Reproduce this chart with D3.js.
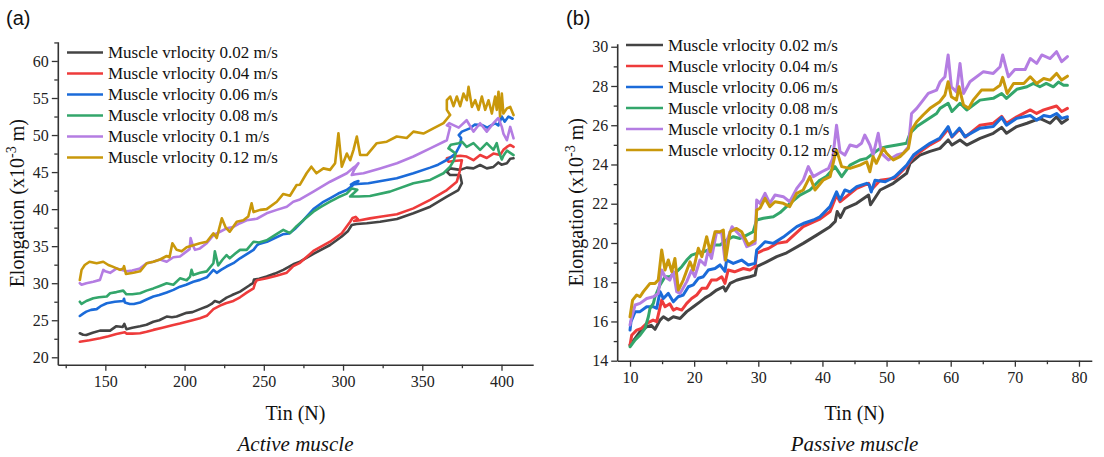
<!DOCTYPE html>
<html>
<head>
<meta charset="utf-8">
<script src="https://cdn.jsdelivr.net/npm/d3@7/dist/d3.min.js"></script>
<style>
  html, body { margin: 0; padding: 0; background: #fff; }
  svg { display: block; }
</style>
</head>
<body>
<svg id="chart" width="1104" height="457"></svg>
<script>
// ---- Legend labels (shared by both panels) ----
const seriesLabels = [
  "Muscle vrlocity 0.02 m/s",
  "Muscle vrlocity 0.04 m/s",
  "Muscle vrlocity 0.06 m/s",
  "Muscle vrlocity 0.08 m/s",
  "Muscle vrlocity 0.1 m/s",
  "Muscle vrlocity 0.12 m/s"
];

// ---- Active muscle: [Tin (N), Elongation (x10^-3 m)] ----
const activeV002 = [[133.9,23.24],[136,23.05],[138,23.0],[142,23.3],[146.6,23.6],[153,23.6],[157,24.2],[161,24.1],[162,24.5],[163.3,23.8],[167,24.0],[171.9,24.2],[176,24.4],[180.3,24.8],[184,25.0],[188.7,25.5],[192,25.4],[195,25.5],[201.3,26.0],[205,26.1],[209.7,26.5],[214,26.85],[217,27.2],[219.1,27.6],[222,27.4],[226.5,28.05],[230,28.4],[235,28.86],[241.3,29.76],[243.2,30.0],[243.8,30.5],[247,30.6],[251.8,30.9],[257,31.3],[262.3,31.8],[268.6,32.55],[272.8,32.9],[281.3,33.95],[291.8,35.16],[299.2,36.3],[303,37.0],[305.5,37.86],[308.6,38.0],[315,38.1],[323.4,38.3],[334,38.67],[344.4,39.44],[355,40.33],[365.5,41.68],[372.8,42.58],[375,43.5],[373.9,44.6],[367.6,44.6],[365.5,45.05],[367.6,45.5],[373.9,45.3],[378,45.6],[382.3,45.5],[386.5,45.96],[390.7,45.5],[394.9,45.7],[398,46.3],[400,46.0],[403.4,46.2],[405.5,46.8],[407.6,46.86]];
const activeV004 = [[133.9,22.1],[140,22.3],[146.6,22.56],[152,22.85],[157,23.15],[162.3,23.37],[163.3,23.2],[167,23.2],[171.9,23.24],[176,23.45],[180.3,23.7],[186,24.0],[192.9,24.36],[197,24.55],[201.3,24.8],[205,25.0],[209.7,25.27],[214,25.6],[218.2,26.5],[222.4,26.97],[226,27.3],[230.8,27.6],[235,28.1],[239.2,28.72],[243.5,29.3],[244.5,30.0],[245.6,30.4],[251.8,30.66],[258,31.0],[264.5,31.42],[268.6,32.3],[272.8,32.75],[281.3,34.35],[291.8,35.6],[299.2,36.74],[304.5,38.3],[306,38.8],[308,38.95],[309.5,38.6],[307,38.4],[310.7,38.5],[317,38.75],[323.4,38.98],[334,39.3],[344.4,40.1],[355,41.24],[365.5,42.58],[371.8,43.7],[373.5,45.0],[375,46.6],[370,46.5],[366.5,46.4],[365.5,46.86],[369.7,47.1],[374,47.2],[378,47.1],[382.3,46.6],[386.5,47.3],[390.7,46.9],[394.9,47.5],[399.1,47.3],[401.2,48.0],[403.4,48.4],[405.5,48.66],[407.6,48.4]];
const activeV006 = [[133.9,25.58],[136,25.9],[138,26.16],[141,26.4],[144.5,26.5],[147,26.9],[150.9,27.3],[156,27.5],[161.3,27.6],[161.8,27.9],[162.3,27.4],[165.4,27.2],[168,27.2],[171.9,27.4],[176,27.8],[180.3,28.2],[184,28.4],[188.7,28.75],[193,29.1],[197.1,29.53],[201,29.8],[205.5,30.2],[209.7,30.45],[214,30.8],[218.2,31.8],[220.3,31.4],[223,31.8],[226.5,32.25],[230.8,32.7],[235,33.36],[239,33.9],[243.5,34.5],[245.6,35.1],[247,35.3],[252,35.6],[257,36.1],[262,36.6],[266,36.7],[270,37.4],[275,38.5],[281.3,40.0],[287,40.9],[292,41.5],[297,42.1],[302.3,42.58],[306,43.2],[309.7,43.8],[307,43.6],[305,43.3],[309,43.4],[316,43.5],[324,43.8],[333.9,44.16],[344.4,44.84],[355,45.6],[360,46.0],[366,46.7],[371,47.5],[374,48.7],[374.5,49.6],[373,50.0],[375,50.46],[380,50.9],[383,51.4],[387.6,51.36],[391,51.0],[396,51.6],[398,51.3],[400.2,52.5],[402,51.8],[404.4,52.5],[407,52.2]];
const activeV008 = [[133.9,27.5],[135,27.2],[138,27.6],[142.4,27.97],[146,28.1],[150.9,28.2],[153,28.64],[157,28.8],[161.3,29.0],[163.3,28.5],[167,28.5],[171.9,28.64],[176,29.0],[180.3,29.3],[184,29.6],[188.7,30.0],[192.9,29.8],[197.1,30.66],[201.3,30.4],[203.5,30.9],[204.4,31.8],[205.5,31.1],[209.7,31.4],[214,31.6],[218.2,32.7],[219.1,34.3],[221.2,32.4],[224,33.2],[226.5,33.8],[228.5,33.36],[232,34.0],[235,34.5],[239.2,34.5],[243.5,35.6],[247,35.5],[251.8,35.8],[257,36.5],[262.3,37.2],[266.5,36.75],[270.7,37.7],[276,38.7],[281.3,39.66],[286,40.3],[291.8,41.0],[297,41.6],[302.3,42.1],[305.5,42.8],[309,42.6],[306,42.0],[304.5,41.7],[310,41.7],[317,41.77],[329.6,42.36],[344.4,43.5],[355,43.94],[363.4,44.84],[367.6,45.73],[370,46.6],[371,47.5],[368,48.0],[366.5,48.2],[368,48.7],[373,48.9],[375,49.1],[378,48.4],[382.3,48.9],[386.5,48.0],[390.7,48.9],[394.9,48.0],[397,48.9],[398.5,47.6],[400.2,46.7],[401.2,47.2],[403.4,47.9],[405.5,47.6],[407.6,47.3]];
const activeV010 = [[133.9,30.0],[135,29.8],[138,30.0],[142.4,30.2],[146.6,30.45],[148.7,31.8],[150,31.6],[153,31.4],[157.2,32.0],[160,31.8],[163.3,31.6],[167,31.7],[171.9,32.0],[176.1,32.7],[180.3,32.9],[184.5,33.2],[188.7,32.9],[192.9,33.5],[197.1,33.6],[201.3,34.3],[203.2,34.6],[203.8,36.1],[205,35.2],[206.6,34.5],[209.7,34.7],[214,35.4],[218.2,36.5],[222.4,36.95],[226.5,37.4],[230.8,37.6],[235,38.1],[239.2,38.5],[245.6,38.7],[251.8,39.44],[258.2,39.9],[264.5,40.33],[268.6,41.0],[272.8,41.3],[281.3,42.36],[291.8,43.7],[302.4,44.84],[306,45.5],[308,45.8],[309.7,46.2],[307,45.3],[305.5,44.6],[308,44.7],[312.9,44.84],[323.4,45.5],[334,46.2],[344.4,47.1],[355,48.2],[365.5,49.3],[367.6,51.1],[365.5,51.3],[367,51.6],[373,51.0],[378,52.0],[382.3,50.46],[386.5,51.6],[390.7,50.46],[394.9,51.6],[398,52.3],[400.2,51.1],[401.2,50.2],[403.4,49.3],[405.5,51.1],[407.6,49.56]];
const activeV012 = [[133.9,30.43],[135,31.8],[137,32.46],[140,32.9],[144.5,32.7],[148.7,32.9],[151.9,32.46],[155,32.2],[159.3,31.8],[161.3,32.0],[161.8,32.3],[163,31.25],[167.7,31.4],[171.9,31.6],[176.1,32.7],[180.3,32.9],[184.5,33.2],[188.7,33.67],[190.5,33.5],[192.3,35.4],[195,34.5],[198.2,34.3],[201.3,34.85],[205,35.1],[209.7,35.4],[214,35.6],[218.2,36.74],[220.3,36.1],[223.5,38.76],[226,37.5],[228.5,36.95],[232.9,38.3],[237.1,38.5],[240.2,39.0],[242.3,40.8],[243.5,39.6],[247.7,39.9],[251.8,40.0],[258.2,41.0],[262.3,42.05],[266.5,41.8],[270.7,43.26],[272.8,43.3],[277,44.84],[280,45.73],[283.2,44.84],[287.6,45.5],[291.8,45.3],[295,46.2],[297.1,50.24],[299.2,45.73],[302.4,47.5],[304.5,46.6],[306.6,48.0],[308.7,49.8],[310.8,47.3],[315,47.3],[321.3,48.9],[327.6,49.1],[333.9,49.8],[340.2,49.6],[344.4,50.46],[350.7,50.2],[357,50.9],[363.4,51.6],[367.6,52.7],[365.5,53.4],[365.5,54.7],[367.6,55.2],[369.7,53.9],[371.8,55.2],[373.9,53.9],[376,55.6],[378.1,54.7],[379.2,56.5],[381.3,53.8],[383.4,54.7],[385.5,53.4],[387.6,55.2],[389.7,53.4],[391.8,54.7],[393.9,52.9],[396,55.2],[397,53.4],[398.1,55.85],[399.1,52.5],[400.2,55.6],[401.2,52.9],[403.4,53.6],[405.5,53.8],[407.6,52.7]];

// ---- Passive muscle: [Tin (N), Elongation (x10^-3 m)] ----
const passiveV002 = [[10,14.8],[10.8,15.14],[11.56,15.48],[12.6,15.73],[13.3,15.8],[13.9,15.6],[14.68,16.07],[15.2,16.24],[15.97,16.07],[16.75,16.24],[17.8,16.15],[18.84,16.5],[19.87,16.75],[20.9,17.0],[21.7,17.2],[22.47,17.35],[23.5,17.6],[24.55,17.77],[24.9,17.55],[25.6,17.94],[26.6,18.1],[27.66,18.2],[28.7,18.28],[29.5,18.36],[29.75,18.79],[31.3,19.04],[32.87,19.3],[34.43,19.5],[37.0,19.98],[39.1,20.4],[41.18,20.83],[42.0,21.1],[42.3,21.6],[42.8,21.3],[43.5,21.75],[45.34,22.02],[47.2,22.44],[47.5,21.95],[49.0,22.7],[51.05,23.04],[53.14,23.55],[53.66,24.06],[55.2,24.48],[56.77,24.67],[58.33,24.82],[59.6,25.25],[60.2,24.99],[61.45,25.25],[62.5,24.99],[64.57,25.33],[66.64,25.59],[67.95,25.89],[68.7,25.59],[70.3,25.93],[71.9,26.1],[73.9,26.35],[75.5,26.1],[76.5,26.43],[77.3,26.1],[78.2,26.3]];
const passiveV004 = [[10,14.8],[10.26,15.3],[11.04,15.56],[11.8,15.65],[12.6,15.9],[13.6,16.07],[14.16,15.99],[14.94,17.09],[15.46,16.75],[16.2,16.9],[16.75,16.58],[17.28,16.67],[18.06,16.58],[18.84,16.92],[19.6,17.17],[20.4,17.35],[21.2,17.69],[21.95,17.69],[22.7,18.11],[23.5,18.11],[24.3,18.28],[24.8,17.94],[25.3,18.62],[26.3,18.53],[27.66,18.7],[28.7,18.62],[29.5,18.79],[29.75,19.47],[30.8,19.64],[31.57,19.72],[32.87,19.98],[34.4,20.06],[37,20.83],[39.5,21.2],[41.2,21.6],[42.2,22.44],[42.74,22.1],[45.34,22.78],[47.2,23.04],[47.6,22.7],[49,23.2],[51.3,23.3],[53.14,23.9],[54.2,24.4],[56.77,25.0],[58.3,25.28],[59.6,25.8],[60.2,25.4],[61.4,25.8],[62.3,25.4],[64.57,26.0],[66.64,26.1],[67.95,26.45],[68.7,26.1],[70.3,26.43],[72.4,26.78],[73.4,26.6],[74.5,26.78],[76.5,26.98],[77.3,26.7],[78.2,26.86]];
const passiveV006 = [[10,15.56],[10.15,15.99],[10.8,16.5],[11.56,16.5],[12.6,16.75],[13.6,16.75],[14.16,16.67],[14.68,17.52],[15.2,17.17],[15.97,17.43],[16.75,17.0],[17.5,17.26],[18.3,17.35],[19.1,17.77],[19.87,17.86],[20.65,18.2],[21.43,18.28],[22.2,18.62],[23.25,18.7],[24.03,18.88],[24.8,18.55],[25.06,19.13],[26.1,18.96],[27.4,19.13],[28.44,18.88],[29.5,18.96],[29.75,19.64],[30.27,19.81],[31.05,20.06],[32.35,19.98],[33.9,20.3],[36.0,20.83],[37,20.99],[38.58,21.17],[39.6,21.33],[41.18,21.85],[42.2,22.61],[42.74,22.2],[43.5,22.7],[44.3,22.6],[45.34,22.87],[46.9,23.04],[47.3,22.95],[47.6,22.6],[48.2,23.2],[49.8,23.12],[51.3,23.38],[53.14,23.97],[54.2,24.48],[55.2,24.73],[56.77,25.08],[58.33,25.35],[59.6,25.93],[60.2,25.42],[61.35,25.85],[62.2,25.42],[64.57,25.85],[66.64,25.93],[67.95,26.4],[68.7,26.0],[70.3,26.35],[72.4,26.5],[73.4,26.26],[74.5,26.5],[75.5,26.43],[76.5,26.6],[77.3,26.35],[78.2,26.43]];
const passiveV008 = [[10,14.71],[10.8,15.06],[11.56,15.3],[12.34,15.65],[12.86,16.24],[13.12,16.67],[13.64,16.92],[13.9,17.26],[14.68,17.86],[15.46,18.28],[16.2,18.28],[17.28,18.54],[18.06,18.79],[18.84,19.13],[19.6,19.38],[20.4,19.47],[21.43,19.55],[22.2,19.64],[22.99,19.9],[24.03,19.9],[25.06,20.15],[26.1,20.32],[27.15,20.23],[28.2,20.4],[29.2,20.57],[29.75,21.17],[30.8,21.26],[32.35,21.34],[33.4,21.55],[34.9,22.0],[36.5,22.44],[38.05,22.7],[39.6,23.2],[40.66,23.4],[41.96,23.89],[43,23.38],[44.3,23.97],[45.85,24.23],[46.9,24.31],[47.94,24.57],[49,24.82],[50,24.9],[51.6,24.99],[53.1,25.08],[53.66,25.59],[54.7,25.93],[56.25,26.27],[57.8,26.6],[58.33,26.86],[59.6,27.12],[60.2,26.7],[61.45,27.12],[62.5,26.78],[64.57,27.28],[66.64,27.37],[67.95,27.62],[68.7,27.37],[70.3,27.83],[71.9,27.96],[72.9,28.13],[73.9,27.96],[74.9,28.13],[76,27.96],[76.8,28.2],[77.6,28.04],[78.2,28.04]];
const passiveV010 = [[10,15.82],[10.26,16.24],[10.8,16.84],[11.56,16.92],[12.6,17.17],[13.64,17.26],[14.4,17.43],[14.94,18.62],[15.46,18.28],[16.2,18.11],[16.75,18.54],[17.28,17.52],[17.8,17.43],[18.84,18.03],[19.6,18.62],[20.1,18.28],[20.9,19.13],[21.7,18.88],[22.2,19.64],[22.7,19.21],[23.5,20.57],[24.3,20.49],[24.8,19.13],[25.2,20.2],[25.9,20.83],[26.6,20.57],[27.66,20.23],[28.2,19.81],[29.5,19.98],[29.75,22.19],[30.27,22.02],[31.05,22.53],[31.8,22.02],[32.6,22.44],[33.9,22.36],[34.9,22.1],[36,22.78],[37,23.2],[37.8,23.89],[38.58,23.38],[39.9,23.63],[40.95,23.8],[41.6,24.3],[42.2,26.0],[42.74,24.65],[43.5,24.48],[44.3,24.99],[45.34,24.9],[46.1,25.08],[46.6,25.5],[47.4,24.99],[47.9,24.48],[48.7,25.59],[49.2,24.57],[50.3,24.23],[51.6,24.48],[52.6,24.57],[53.4,24.9],[53.9,26.6],[54.7,26.86],[55.7,27.28],[56.5,27.62],[57.8,27.79],[58.33,28.2],[59.1,28.47],[59.6,29.58],[60.1,27.96],[60.9,27.7],[61.45,29.15],[62,27.62],[63,28.22],[65.1,28.73],[66.64,28.64],[67.7,28.98],[68.1,29.58],[69,28.47],[70,28.84],[71.6,28.84],[72.4,29.4],[73.4,29.15],[74.2,29.58],[75.5,29.4],[76.5,29.75],[77.3,29.24],[78.2,29.5]];
const passiveV012 = [[10,16.24],[10.4,17.09],[11.04,17.35],[11.56,17.26],[12.08,17.52],[13.12,17.94],[13.9,17.94],[14.4,18.11],[14.94,19.64],[15.46,18.62],[15.97,19.13],[16.5,18.54],[17.0,19.21],[17.54,17.6],[18.3,18.11],[19.35,19.04],[19.87,18.62],[20.65,19.73],[21.2,19.3],[21.95,20.32],[22.5,19.55],[23.25,20.57],[24.03,20.57],[24.55,20.66],[24.9,19.13],[25.6,20.57],[26.6,20.74],[27.4,20.57],[28.44,19.9],[29.5,20.15],[29.75,21.68],[30.27,21.77],[31.05,22.27],[31.8,21.85],[32.6,22.1],[33.9,22.02],[34.9,21.85],[36,22.53],[37,22.7],[38.05,23.38],[38.84,22.7],[40.1,23.2],[41.2,23.38],[41.96,24.48],[42.2,24.73],[43,23.89],[44.3,23.8],[45.85,23.97],[46.9,24.14],[47.4,23.63],[47.9,24.4],[48.4,24.06],[49.5,24.82],[50,24.57],[51.05,24.23],[52.1,24.4],[53.4,24.82],[53.9,25.76],[54.7,26.18],[55.7,26.52],[56.77,26.86],[58.3,27.2],[59.1,27.54],[59.6,28.22],[60.1,27.45],[60.9,27.28],[61.3,27.96],[62,27.03],[62.8,26.86],[63.5,27.28],[64.8,27.79],[66.64,27.79],[67.7,28.04],[68.1,28.44],[68.8,27.62],[69.8,28.13],[71.4,28.13],[72.4,28.47],[73.4,28.13],[74.5,28.38],[75.5,28.3],[76.5,28.64],[77.3,28.3],[78.2,28.5]];

// ---- Tick values ----
const activeXTicks = [150, 200, 250, 300, 350, 400];
const activeXMinor = [125, 175, 225, 275, 325, 375];
const activeYTicks = [20, 25, 30, 35, 40, 45, 50, 55, 60];
const activeYMinor = [22.5, 27.5, 32.5, 37.5, 42.5, 47.5, 52.5, 57.5, 62.5];
const passiveXTicks = [10, 20, 30, 40, 50, 60, 70, 80];
const passiveXMinor = [15, 25, 35, 45, 55, 65, 75];
const passiveYTicks = [14, 16, 18, 20, 22, 24, 26, 28, 30];
const passiveYMinor = [15, 17, 19, 21, 23, 25, 27, 29];

const lineColors = ["#444444", "#ee3b3b", "#1b6bd9", "#33a66b", "#b47de2", "#c9980b"];

const svg = d3.select("#chart");
const serif = "'Liberation Serif', 'Times New Roman', serif";
const sans = "'Liberation Sans', Arial, sans-serif";

function drawPanel(p) {
  const x = d3.scaleLinear().domain(p.xDomain).range(p.xRange);
  const y = d3.scaleLinear().domain(p.yDomain).range(p.yRange);
  const g = svg.append("g");

  // series
  const line = d3.line().x(d => x(d[0])).y(d => y(d[1]));
  g.append("g").selectAll("path")
    .data(p.series)
    .join("path")
    .attr("d", d => line(d))
    .attr("fill", "none")
    .attr("stroke", (d, i) => lineColors[i])
    .attr("stroke-width", p.strokeWidth)
    .attr("stroke-linejoin", "round")
    .attr("stroke-linecap", "round");

  // axes: minor ticks first, then major ticks with labels
  const yBase = p.yRange[0];
  const xBase = p.xRange[0];
  g.append("g").attr("transform", `translate(0,${yBase})`)
    .call(d3.axisBottom(x).tickValues(p.xMinor.filter(v => v >= p.xDomain[0] && v <= p.xDomain[1])).tickSize(3.5).tickSizeOuter(0).tickFormat(""))
    .call(s => s.select(".domain").remove());
  g.append("g").attr("transform", `translate(${xBase},0)`)
    .call(d3.axisLeft(y).tickValues(p.yMinor.filter(v => v >= p.yDomain[0] && v <= p.yDomain[1])).tickSize(3.5).tickSizeOuter(0).tickFormat(""))
    .call(s => s.select(".domain").remove());

  const xAxis = g.append("g").attr("transform", `translate(0,${yBase})`)
    .call(d3.axisBottom(x).tickValues(p.xTicks).tickSize(6).tickSizeOuter(0).tickPadding(5));
  const yAxis = g.append("g").attr("transform", `translate(${xBase},0)`)
    .call(d3.axisLeft(y).tickValues(p.yTicks).tickSize(6).tickSizeOuter(0).tickPadding(3));
  g.selectAll(".domain").attr("stroke", "#333").attr("stroke-width", 1.6);
  g.selectAll(".tick line").attr("stroke", "#333").attr("stroke-width", 1.3);
  [xAxis, yAxis].forEach(a => a.selectAll("text")
    .style("font-family", serif).style("font-size", "16px").attr("fill", "#222"));

  // axis titles
  const xMid = (p.xRange[0] + p.xRange[1]) / 2;
  const yMid = (p.yRange[0] + p.yRange[1]) / 2;
  g.append("text")
    .attr("x", xMid).attr("y", 420)
    .attr("text-anchor", "middle")
    .style("font-family", serif).style("font-size", "20px").attr("fill", "#111")
    .text("Tin (N)");
  const yt = g.append("text")
    .attr("transform", `translate(${p.yTitleX},${yMid}) rotate(-90)`)
    .attr("text-anchor", "middle")
    .style("font-family", serif).style("font-size", "20px").attr("fill", "#111");
  yt.append("tspan").text("Elongation (x10");
  yt.append("tspan").style("font-size", "14px").attr("dy", -8).text("-3");
  yt.append("tspan").attr("dy", 8).text(" m)");

  // caption
  g.append("text")
    .attr("x", xMid).attr("y", 451)
    .attr("text-anchor", "middle")
    .style("font-family", serif).style("font-size", "21px").style("font-style", "italic").attr("fill", "#111")
    .text(p.caption);

  // panel letter
  g.append("text")
    .attr("x", p.letterX).attr("y", 25)
    .style("font-family", sans).style("font-size", "20px").attr("fill", "#111")
    .text(p.letter);

  // legend
  const lg = g.append("g");
  seriesLabels.forEach((lab, i) => {
    const cy = p.legendY + i * p.legendStep;
    lg.append("line")
      .attr("x1", p.legendX).attr("x2", p.legendX + p.legendLen)
      .attr("y1", cy).attr("y2", cy)
      .attr("stroke", lineColors[i]).attr("stroke-width", 2.5);
    lg.append("text")
      .attr("x", p.legendX + p.legendLen + 5).attr("y", cy)
      .attr("dominant-baseline", "central")
      .style("font-family", serif).style("font-size", "17px").attr("fill", "#111")
      .text(lab);
  });
}

drawPanel({
  series: [activeV002, activeV004, activeV006, activeV008, activeV010, activeV012],
  xDomain: [120, 420], xRange: [57.8, 533.2],
  yDomain: [19, 62.6], yRange: [364.7, 41.7],
  xTicks: activeXTicks, xMinor: activeXMinor,
  yTicks: activeYTicks, yMinor: activeYMinor,
  strokeWidth: 2.6,
  yTitleX: 24, caption: "Active muscle", letter: "(a)", letterX: 6,
  legendX: 67, legendLen: 36, legendY: 52.5, legendStep: 21
});

drawPanel({
  series: [passiveV002, passiveV004, passiveV006, passiveV008, passiveV010, passiveV012],
  xDomain: [8, 82], xRange: [617.2, 1091.8],
  yDomain: [14, 30.15], yRange: [360.7, 43.8],
  xTicks: passiveXTicks, xMinor: passiveXMinor,
  yTicks: passiveYTicks, yMinor: passiveYMinor,
  strokeWidth: 3.0,
  yTitleX: 583, caption: "Passive muscle", letter: "(b)", letterX: 566,
  legendX: 626, legendLen: 37, legendY: 45, legendStep: 21
});
</script>
</body>
</html>
